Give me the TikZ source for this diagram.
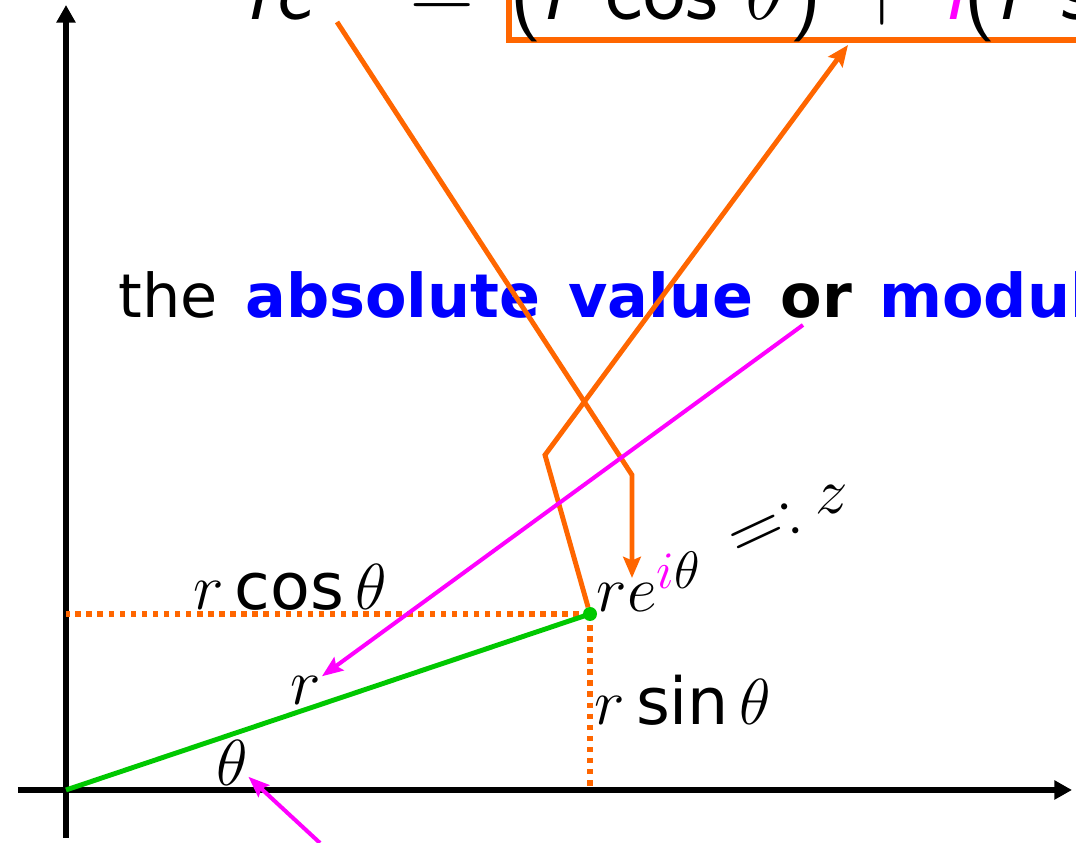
\RequirePackage{fix-cm}
\documentclass[tikz,border=0pt]{standalone}
\usepackage{fontspec}
\setmainfont{DejaVu Sans}
\usepackage{tikz}
\usetikzlibrary{arrows.meta}
\definecolor{Naranja}{HTML}{FF6600}
\definecolor{Verde}{HTML}{00C800}
\definecolor{Fucsia}{HTML}{FF00FF}
\definecolor{AzulVivo}{HTML}{0000FF}

\begin{document}
\begin{tikzpicture}[
  every node/.style={inner sep=0pt},
  axisline/.style={line width=1.65pt,-{Triangle[length=5pt,width=5.2pt]}},
  guide/.style={line width=1.6pt,Naranja,dash pattern=on 1.55pt off 1.6pt},
  ray/.style={line width=1.4pt,Verde},
  pointer/.style={line width=1.4pt,Naranja,-{Stealth[length=6pt,width=5pt,inset=1pt]}},
  hint/.style={line width=1.15pt,Fucsia,-{Stealth[length=6pt,width=4.6pt,inset=1pt]}},
  mathlab/.style={font=\fontsize{18.5}{22}\selectfont},
  bigsans/.style={font=\fontsize{25.5}{30}\selectfont\sffamily}
]
  \useasboundingbox (0,0) rectangle (10.76,8.43);
  \clip (0,0) rectangle (10.76,8.43);

  \coordinate (O) at (0.66,0.53);
  \coordinate (z) at (5.90,2.29);

  % axes
  \draw[axisline] (0.18,0.53) -- (10.72,0.53);
  \draw[axisline] (0.66,0.05) -- (0.66,8.38);

  % projections and the point itself
  \draw[guide] (z) -- (O |- z);
  \draw[guide] (z) -- (z |- O);
  \draw[ray] (O) -- (z);
  \fill[Verde] (z) circle (0.07);

  \node[mathlab,anchor=base] (rcos) at (2.90,2.33) {$r\cos\theta$};
  \node[mathlab,anchor=base west] (rsin) at (5.94,1.18) {$r\sin\theta$};
  \node[mathlab] (rlab) at (3.06,1.52) {$r$};
  \node[mathlab] (thlab) at (2.32,0.80) {$\theta$};
  \node[mathlab,anchor=base west] (zlab) at (5.96,2.31)
    {$re^{\mbox{\fontsize{15}{18}\selectfont$\textcolor{Fucsia}{i}\theta$}}$};
  \node[font=\fontsize{21.5}{26}\selectfont,rotate=25] (defeq) at (7.66,3.13) {$=:$};
  \node[mathlab] (zname) at (8.32,3.43) {$z$};

  \node[anchor=base west,font=\fontsize{17.2}{20}\selectfont] (phrase)
    at (1.18,5.25) {\spaceskip=0.275cm the \textbf{\textcolor{AzulVivo}{absolute value}}
    \textbf{or} \textbf{\textcolor{AzulVivo}{modulus}}};

  % equation at the top, cut by the frame
  \node[bigsans,anchor=base west] (lhs) at (2.45,8.23)
    {\textit{re}\textsuperscript{\textit{\textcolor{Fucsia}{i}}$\theta$}};
  \node[bigsans,anchor=base] (eqsign) at (4.42,8.23) {=};
  \node[bigsans,anchor=base west,draw=Naranja,line width=1.8pt,
    text depth=0.20cm] (box) at (5.06,8.23)
    {(\textit{r} cos $\theta$) + \textit{\textcolor{Fucsia}{i}}(\textit{r} sin $\theta$)};

  \coordinate (expfoot) at (3.37,8.21);
  \coordinate (bendA) at (6.32,3.68);
  \coordinate (tipA) at (6.32,2.65);
  \draw[pointer] (expfoot) -- (bendA) -- (tipA);

  \coordinate (bendB) at (5.45,3.88);
  \coordinate (boxfoot) at (8.48,7.98);
  \draw[pointer,shorten <=2pt] (z) -- (bendB) -- (boxfoot);

  \coordinate (modfoot) at (8.03,5.18);
  \draw[hint] (modfoot) -- (rlab.north east);
  \coordinate (thsrc) at (3.20,0.00);
  \draw[hint] (thsrc) -- (thlab.-40);
\end{tikzpicture}
\end{document}
